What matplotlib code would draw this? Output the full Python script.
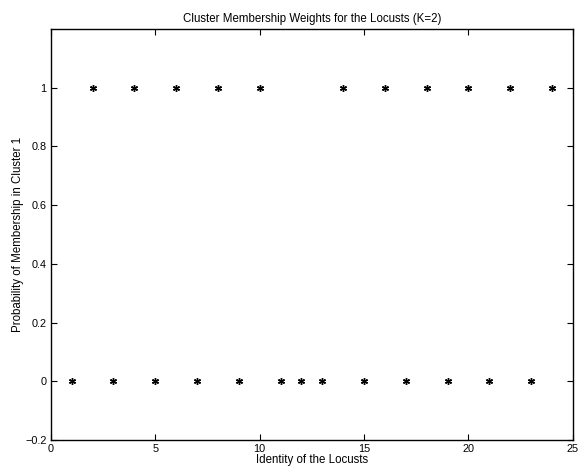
import matplotlib
matplotlib.use('Agg')
import matplotlib.pyplot as plt

# Data
locust_id = list(range(1, 25))
weights = [0, 1, 0, 1, 0, 1, 0, 1, 0, 1, 0, 0,
           0, 1, 0, 1, 0, 1, 0, 1, 0, 1, 0, 1]
xticks = [0, 5, 10, 15, 20, 25]
yticks = [-0.2, 0, 0.2, 0.4, 0.6, 0.8, 1]
ytick_labels = ['\u22120.2', '0', '0.2', '0.4', '0.6', '0.8', '1']

plt.rcParams['font.family'] = ['Liberation Sans', 'DejaVu Sans']
plt.rcParams['font.size'] = 8.3

fig = plt.figure(figsize=(5.78, 4.68), dpi=100)
ax = fig.add_axes([0.088, 0.060, 0.903, 0.878])

ax.plot(locust_id, weights, linestyle='none', marker=(6, 2, 0),
        markersize=5, markeredgewidth=1.0, color='black')

ax.set_xlim(0, 25)
ax.set_ylim(-0.2, 1.2)
ax.set_xticks(xticks)
ax.set_yticks(yticks)
ax.set_yticklabels(ytick_labels)
ax.tick_params(direction='in', top=True, right=True, length=4, width=0.8,
               labelsize=7.8, pad=3)
for s in ax.spines.values():
    s.set_linewidth(1.0)

ax.set_title('Cluster Membership Weights for the Locusts (K=2)', fontsize=8.3, pad=5)
ax.set_xlabel('Identity of the Locusts', fontsize=8.3, labelpad=0)
ax.set_ylabel('Probability of Membership in Cluster 1', fontsize=8.3, labelpad=1)

fig.savefig('out.png', dpi=100)
